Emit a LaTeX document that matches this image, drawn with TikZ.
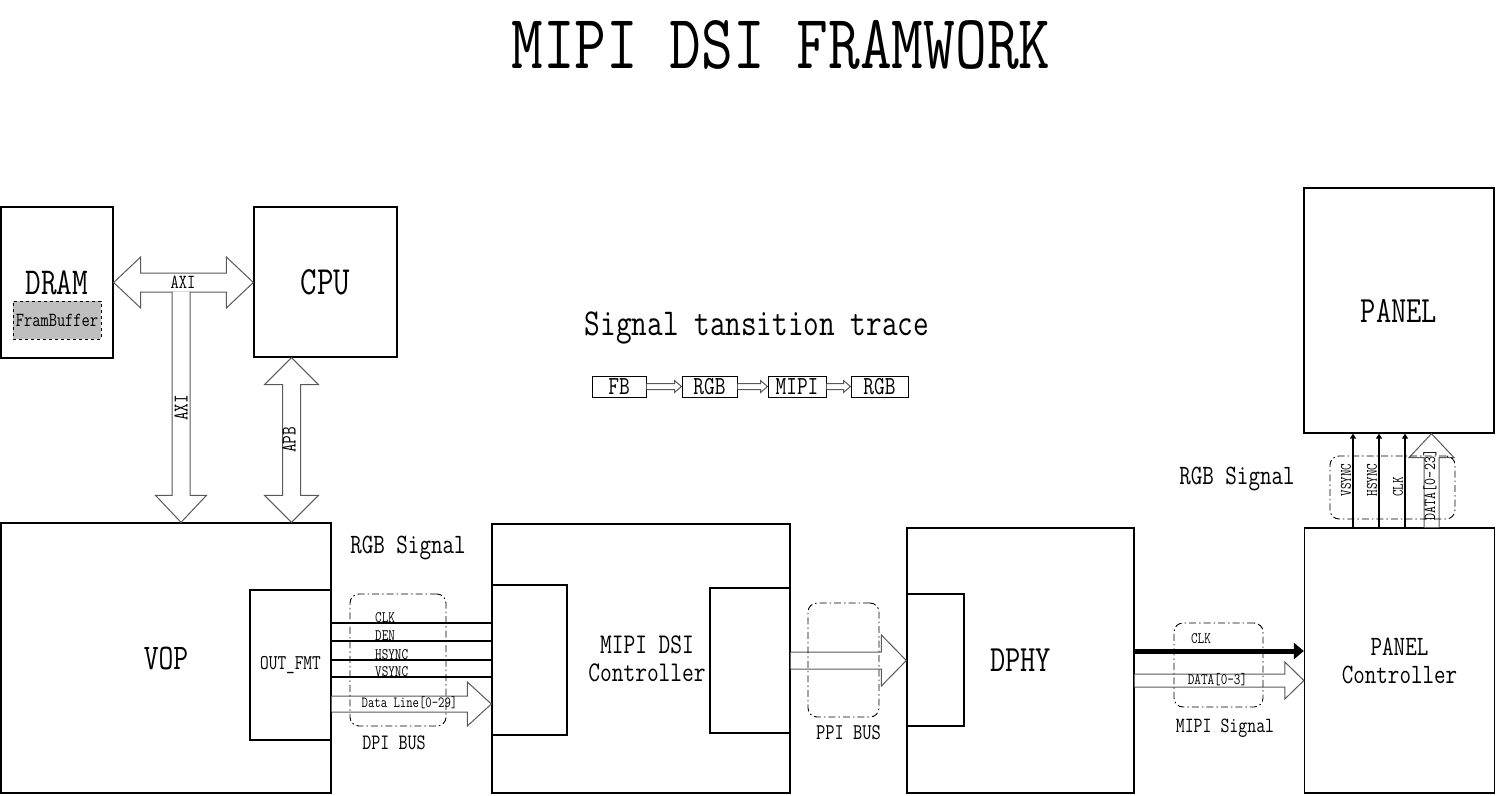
\documentclass[tikz,border=0pt]{standalone}
\usepackage{fontspec}
\setmainfont[FakeStretch=0.8]{Latin Modern Mono}
\usetikzlibrary{arrows.meta,calc}

\newcommand{\busright}[5]{\draw[bus] let \p1=(#1),\p2=(#2) in
    (\x1,\y2+#3) -- (\x2-#5,\y2+#3) -- (\x2-#5,\y2+#4) -- (\p2)
    -- (\x2-#5,\y2-#4) -- (\x2-#5,\y2-#3) -- (\x1,\y2-#3);}
\newcommand{\busboth}[5]{\draw[bus] let \p1=(#1),\p2=(#2) in
    (\p1) -- (\x1+#5,\y1+#4) -- (\x1+#5,\y1+#3) -- (\x2-#5,\y1+#3) -- (\x2-#5,\y1+#4) -- (\p2)
    -- (\x2-#5,\y1-#4) -- (\x2-#5,\y1-#3) -- (\x1+#5,\y1-#3) -- (\x1+#5,\y1-#4) -- cycle;}
\newcommand{\busvert}[5]{\draw[bus] let \p1=(#1),\p2=(#2) in
    (\x2+#3,\y1) -- (\x2+#3,\y2+#5) -- (\x2+#4,\y2+#5) -- (\p2)
    -- (\x2-#4,\y2+#5) -- (\x2-#3,\y2+#5) -- (\x2-#3,\y1);}
\newcommand{\busvboth}[5]{\draw[bus] let \p1=(#1),\p2=(#2) in
    (\p1) -- (\x1+#4,\y1-#5) -- (\x1+#3,\y1-#5) -- (\x1+#3,\y2+#5) -- (\x1+#4,\y2+#5) -- (\p2)
    -- (\x1-#4,\y2+#5) -- (\x1-#3,\y2+#5) -- (\x1-#3,\y1-#5) -- (\x1-#4,\y1-#5) -- cycle;}

\begin{document}
\begin{tikzpicture}[
                x=1pt,y=-1pt,
                blk/.style={draw,line width=1.3pt,inner sep=0pt},
                sub/.style={draw,line width=1pt,dashed,fill=gray!50,inner sep=0pt},
                grp/.style={draw,line width=0.9pt,dash pattern=on 7pt off 3pt on 1.5pt off 3pt,rounded corners=9pt,inner sep=0pt},
                bus/.style={draw=gray!70!black,line width=1pt,fill=white},
                sig/.style={line width=2.4pt},
                lbl/.style={font=\fontsize{#1}{#1}\selectfont,inner sep=0pt}
            ]
                \useasboundingbox (0,0) rectangle (1496,795);
                \node[lbl=77] (title) at (781,45) {MIPI DSI FRAMWORK};

                \node[blk,minimum width=112pt,minimum height=151pt,lbl=38] (dram) at (57,282.5) {DRAM};
                \node[sub,minimum width=88pt,minimum height=38pt,lbl=20] (fbuf) at (57,320) {FramBuffer};
                \node[blk,minimum width=143pt,minimum height=150pt,lbl=40] (cpu) at (325.5,282) {CPU};
                \node[blk,minimum width=330pt,minimum height=270pt,lbl=36] (vop) at (166,658) {VOP};
                \node[blk,minimum width=81pt,minimum height=150pt,lbl=21] (outfmt) at (290.5,665) {OUT\_FMT};
                \node[blk,minimum width=298pt,minimum height=269pt] (dsi) at (641,658.5) {};
                \node[blk,minimum width=75pt,minimum height=150pt] (dsiin) at (529.5,660) {};
                \node[blk,minimum width=80pt,minimum height=145pt] (dsiout) at (750,660.5) {};
                \node[lbl=28.5,align=center] (dsitxt) at (647,659) {MIPI DSI\\Controller};
                \node[blk,minimum width=227pt,minimum height=265pt,lbl=37] (dphy) at (1020.5,660.5) {DPHY};
                \node[blk,minimum width=57pt,minimum height=132pt] (dphyin) at (935.5,660) {};
                \node[blk,minimum width=190pt,minimum height=265pt,lbl=28,align=center] (pctrl) at (1399.5,660.5) {PANEL\\Controller};
                \node[blk,minimum width=190pt,minimum height=245pt,lbl=37] (panel) at (1399,310.5) {PANEL};

                \node[lbl=38] (trace) at (757,328) {Signal tansition trace};
                \node[blk,line width=1pt,minimum width=54pt,minimum height=21pt,lbl=26] (fb) at (619,386.5) {FB};
                \node[blk,line width=1pt,minimum width=55pt,minimum height=21pt,lbl=26] (rgba) at (709.5,386.5) {RGB};
                \node[blk,line width=1pt,minimum width=58pt,minimum height=21pt,lbl=26] (mipi) at (797,386.5) {MIPI};
                \node[blk,line width=1pt,minimum width=57pt,minimum height=21pt,lbl=26] (rgbb) at (879.5,386.5) {RGB};
                \busright{fb.east}{rgba.west}{3pt}{6pt}{7pt}
                \busright{rgba.east}{mipi.west}{3pt}{6pt}{7pt}
                \busright{mipi.east}{rgbb.west}{3pt}{6pt}{7pt}

                \coordinate (axitap) at (181,291.5);
                \coordinate (apb) at (291.5,0);
                \coordinate (dpi) at (0,704);
                \coordinate (mclk) at (0,651);
                \coordinate (mdata) at (0,680.5);
                \coordinate (rgbdata) at (1431.5,0);

                \busboth{dram.east}{cpu.west |- dram.east}{9.5pt}{25.5pt}{27pt}
                \busvert{axitap}{vop.north -| axitap}{9pt}{25.5pt}{27pt}
                \busvboth{cpu.south -| apb}{vop.north -| apb}{9pt}{27pt}{27pt}
                \node[lbl=20] (axih) at (183,282) {AXI};
                \node[lbl=21,rotate=90] (axiv) at (181,408) {AXI};
                \node[lbl=21,rotate=90] (apbv) at (289,440) {APB};

                \foreach \y/\n in {623/CLK,641/DEN,660/HSYNC,677/VSYNC}{
                    \coordinate (s\n) at (0,\y);
                    \draw[sig] (outfmt.east |- s\n) -- (dsiin.west |- s\n);
                    \node[lbl=16,anchor=west] (l\n) at (375,\y-5.5) {\n};
                }
                \busright{outfmt.east |- dpi}{dsiin.west |- dpi}{8pt}{22pt}{24pt}
                \node[lbl=15.5] (ldata) at (409.5,703) {Data Line[0-29]};
                \node[grp,minimum width=96pt,minimum height=132pt] (dpibox) at (398,660) {};
                \node[lbl=28] (rgbl) at (408,548) {RGB Signal};
                \node[lbl=22] (dpil) at (394,743) {DPI BUS};

                \busright{dsiout.east}{dphyin.west |- dsiout.east}{8.5pt}{25.5pt}{25pt}
                \node[grp,minimum width=71pt,minimum height=114pt] (ppibox) at (843.5,660) {};
                \node[lbl=22.5] (ppil) at (848.5,733) {PPI BUS};

                \draw[line width=5pt,-{Triangle[length=10pt,width=16pt]}] (dphy.east |- mclk) -- (pctrl.west |- mclk);
                \busright{dphy.east |- mdata}{pctrl.west |- mdata}{6.5pt}{18.5pt}{19pt}
                \node[lbl=16] (lmclk) at (1201,639) {CLK};
                \node[lbl=16] (lmdata) at (1217.5,680) {DATA[0-3]};
                \node[grp,minimum width=89pt,minimum height=84pt] (mipibox) at (1218.5,665) {};
                \node[lbl=21.7] (mipil) at (1225,728) {MIPI Signal};

                \foreach \x/\n in {1353/vs,1379/hs,1405/ck}{
                    \coordinate (r\n) at (\x,0);
                    \draw[sig,-{Triangle[length=5pt,width=6pt]}] (pctrl.north -| r\n) -- (panel.south -| r\n);
                }
                \busvert{pctrl.north -| rgbdata}{panel.south -| rgbdata}{7.5pt}{22.5pt}{-24pt}
                \node[lbl=16,rotate=90] (lvs) at (1346,480) {VSYNC};
                \node[lbl=16,rotate=90] (lhs) at (1372,480) {HSYNC};
                \node[lbl=16,rotate=90] (lck) at (1398,487) {CLK};
                \node[lbl=17,rotate=90] (lrd) at (1430,485) {DATA[0-23]};
                \node[grp,minimum width=125pt,minimum height=63pt] (rgbbox) at (1392.5,487.5) {};
                \node[lbl=28] (rgbr) at (1237,479) {RGB Signal};
            \end{tikzpicture}
\end{document}
